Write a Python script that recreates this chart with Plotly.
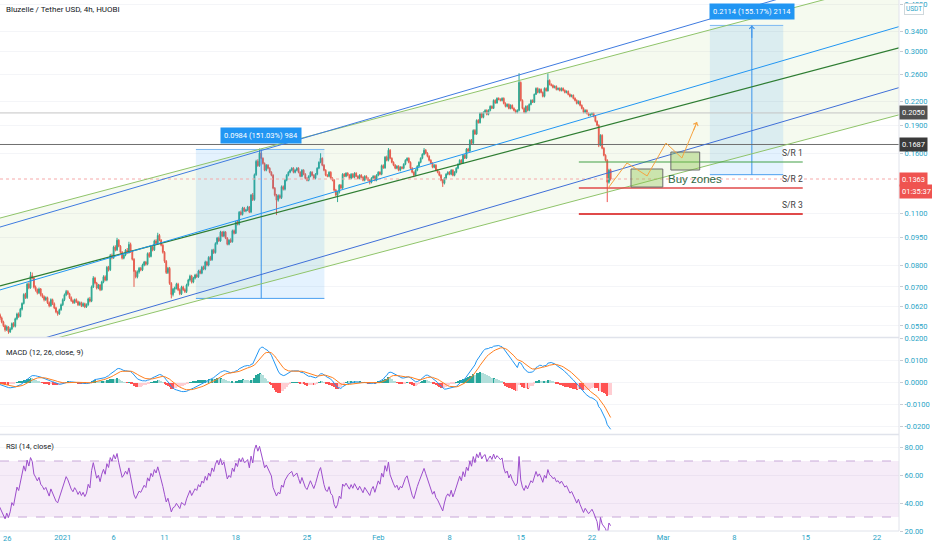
import math
import numpy as np
import pandas as pd
import plotly.graph_objects as go

# ---------------------------------------------------------------- data
candle_start = "2020-12-25 00:00"   # 4h candles
first_open = 0.0632

close = [
    0.0627, 0.0615, 0.0600, 0.0608, 0.0589, 0.0578,  # Dec 25
    0.0564, 0.0551, 0.0537, 0.0547, 0.0530, 0.0540,  # Dec 26
    0.0558, 0.0549, 0.0575, 0.0592, 0.0583, 0.0610,  # Dec 27
    0.0632, 0.0668, 0.0655, 0.0712, 0.0696, 0.0750,  # Dec 28
    0.0739, 0.0699, 0.0688, 0.0675, 0.0691, 0.0667,  # Dec 29
    0.0659, 0.0647, 0.0655, 0.0635, 0.0623, 0.0647,  # Dec 30
    0.0631, 0.0615, 0.0600, 0.0593, 0.0608, 0.0627,  # Dec 31
    0.0647, 0.0667, 0.0680, 0.0671, 0.0655, 0.0643,  # Jan 1
    0.0635, 0.0647, 0.0639, 0.0627, 0.0635, 0.0623,  # Jan 2
    0.0631, 0.0619, 0.0627, 0.0650, 0.0641, 0.0700,  # Jan 3
    0.0739, 0.0717, 0.0695, 0.0708, 0.0688, 0.0721,  # Jan 4
    0.0745, 0.0730, 0.0790, 0.0778, 0.0850, 0.0838,  # Jan 5
    0.0895, 0.0880, 0.0934, 0.0900, 0.0867, 0.0836,  # Jan 6
    0.0852, 0.0878, 0.0865, 0.0910, 0.0870, 0.0830,  # Jan 7
    0.0770, 0.0745, 0.0768, 0.0785, 0.0778, 0.0801,  # Jan 8
    0.0816, 0.0805, 0.0860, 0.0845, 0.0895, 0.0880,  # Jan 9
    0.0930, 0.0915, 0.0962, 0.0934, 0.0906, 0.0867,  # Jan 10
    0.0820, 0.0765, 0.0785, 0.0715, 0.0668, 0.0690,  # Jan 11
    0.0695, 0.0712, 0.0688, 0.0671, 0.0699, 0.0688,  # Jan 12
    0.0680, 0.0708, 0.0730, 0.0748, 0.0721, 0.0739,  # Jan 13
    0.0753, 0.0745, 0.0772, 0.0762, 0.0790, 0.0782,  # Jan 14
    0.0816, 0.0801, 0.0840, 0.0828, 0.0878, 0.0865,  # Jan 15
    0.0915, 0.0946, 0.0930, 0.0982, 0.0958, 0.0982,  # Jan 16
    0.0946, 0.0911, 0.0934, 0.0925, 0.0990, 0.0975,  # Jan 17
    0.1045, 0.1030, 0.1110, 0.1095, 0.1139, 0.1118,  # Jan 18
    0.1125, 0.1146, 0.1111, 0.1234, 0.1200, 0.1400,  # Jan 19
    0.1520, 0.1480, 0.1600, 0.1549, 0.1500, 0.1439,  # Jan 20
    0.1484, 0.1457, 0.1421, 0.1395, 0.1288, 0.1234,  # Jan 21
    0.1196, 0.1230, 0.1215, 0.1300, 0.1280, 0.1353,  # Jan 22
    0.1395, 0.1421, 0.1439, 0.1457, 0.1421, 0.1439,  # Jan 23
    0.1457, 0.1421, 0.1386, 0.1439, 0.1404, 0.1369,  # Jan 24
    0.1353, 0.1386, 0.1421, 0.1395, 0.1369, 0.1404,  # Jan 25
    0.1457, 0.1511, 0.1549, 0.1484, 0.1439, 0.1395,  # Jan 26
    0.1386, 0.1421, 0.1369, 0.1353, 0.1272, 0.1234,  # Jan 27
    0.1256, 0.1312, 0.1290, 0.1404, 0.1386, 0.1413,  # Jan 28
    0.1395, 0.1369, 0.1404, 0.1378, 0.1413, 0.1386,  # Jan 29
    0.1369, 0.1395, 0.1378, 0.1353, 0.1386, 0.1369,  # Jan 30
    0.1353, 0.1336, 0.1369, 0.1386, 0.1353, 0.1395,  # Jan 31
    0.1421, 0.1404, 0.1480, 0.1460, 0.1560, 0.1530,  # Feb 1
    0.1628, 0.1549, 0.1511, 0.1484, 0.1457, 0.1475,  # Feb 2
    0.1439, 0.1466, 0.1457, 0.1493, 0.1530, 0.1549,  # Feb 3
    0.1511, 0.1457, 0.1421, 0.1395, 0.1439, 0.1475,  # Feb 4
    0.1511, 0.1549, 0.1588, 0.1628, 0.1598, 0.1568,  # Feb 5
    0.1530, 0.1502, 0.1466, 0.1484, 0.1439, 0.1421,  # Feb 6
    0.1395, 0.1353, 0.1328, 0.1369, 0.1404, 0.1421,  # Feb 7
    0.1404, 0.1439, 0.1395, 0.1421, 0.1457, 0.1493,  # Feb 8
    0.1530, 0.1505, 0.1578, 0.1550, 0.1640, 0.1620,  # Feb 9
    0.1731, 0.1700, 0.1840, 0.1800, 0.1958, 0.1930,  # Feb 10
    0.2045, 0.1995, 0.2057, 0.2083, 0.2032, 0.2083,  # Feb 11
    0.2135, 0.2110, 0.2215, 0.2180, 0.2243, 0.2229,  # Feb 12
    0.2215, 0.2243, 0.2174, 0.2135, 0.2161, 0.2108,  # Feb 13
    0.2148, 0.2108, 0.2083, 0.2057, 0.2083, 0.2475,  # Feb 14
    0.2215, 0.2108, 0.2057, 0.2135, 0.2083, 0.2161,  # Feb 15
    0.2215, 0.2190, 0.2300, 0.2385, 0.2327, 0.2371,  # Feb 16
    0.2327, 0.2271, 0.2385, 0.2350, 0.2506, 0.2445,  # Feb 17
    0.2430, 0.2400, 0.2415, 0.2371, 0.2385, 0.2356,  # Feb 18
    0.2385, 0.2356, 0.2327, 0.2341, 0.2298, 0.2271,  # Feb 19
    0.2285, 0.2243, 0.2215, 0.2174, 0.2201, 0.2148,  # Feb 20
    0.2108, 0.2057, 0.2083, 0.2045, 0.2020, 0.2032,  # Feb 21
    0.2045, 0.2008, 0.1946, 0.1899, 0.1679, 0.1785,  # Feb 22
    0.1648, 0.1578, 0.1530, 0.1336, 0.1439, 0.1363,  # Feb 23
]

high = [
    0.0640, 0.0632, 0.0619, 0.0614, 0.0611, 0.0594,
    0.0583, 0.0568, 0.0555, 0.0552, 0.0549, 0.0545,
    0.0562, 0.0563, 0.0579, 0.0597, 0.0598, 0.0615,
    0.0636, 0.0673, 0.0675, 0.0718, 0.0720, 0.0768,
    0.0765, 0.0745, 0.0706, 0.0693, 0.0697, 0.0695,
    0.0673, 0.0664, 0.0660, 0.0659, 0.0640, 0.0652,
    0.0651, 0.0636, 0.0619, 0.0604, 0.0612, 0.0632,
    0.0652, 0.0672, 0.0687, 0.0686, 0.0675, 0.0660,
    0.0648, 0.0651, 0.0652, 0.0643, 0.0640, 0.0639,
    0.0636, 0.0635, 0.0632, 0.0655, 0.0658, 0.0706,
    0.0748, 0.0745, 0.0722, 0.0713, 0.0712, 0.0727,
    0.0752, 0.0752, 0.0796, 0.0797, 0.0858, 0.0860,
    0.0903, 0.0905, 0.0948, 0.0940, 0.0906, 0.0873,
    0.0858, 0.0884, 0.0890, 0.0925, 0.0920, 0.0876,
    0.0836, 0.0776, 0.0775, 0.0792, 0.0792, 0.0808,
    0.0822, 0.0822, 0.0866, 0.0868, 0.0902, 0.0905,
    0.0937, 0.0940, 0.0978, 0.0971, 0.0940, 0.0912,
    0.0873, 0.0826, 0.0792, 0.0792, 0.0721, 0.0696,
    0.0701, 0.0718, 0.0718, 0.0694, 0.0705, 0.0705,
    0.0694, 0.0714, 0.0736, 0.0755, 0.0754, 0.0745,
    0.0759, 0.0760, 0.0778, 0.0780, 0.0797, 0.0798,
    0.0823, 0.0822, 0.0846, 0.0848, 0.0885, 0.0886,
    0.0922, 0.0953, 0.0955, 0.0990, 0.0988, 0.0990,
    0.0988, 0.0952, 0.0940, 0.0945, 0.0997, 0.0998,
    0.1052, 0.1058, 0.1118, 0.1122, 0.1148, 0.1147,
    0.1133, 0.1155, 0.1153, 0.1243, 0.1250, 0.1410,
    0.1535, 0.1540, 0.1645, 0.1618, 0.1558, 0.1510,
    0.1494, 0.1494, 0.1466, 0.1430, 0.1404, 0.1297,
    0.1243, 0.1240, 0.1240, 0.1310, 0.1310, 0.1362,
    0.1404, 0.1430, 0.1448, 0.1466, 0.1466, 0.1448,
    0.1466, 0.1466, 0.1430, 0.1448, 0.1448, 0.1413,
    0.1378, 0.1395, 0.1430, 0.1430, 0.1404, 0.1413,
    0.1466, 0.1520, 0.1598, 0.1558, 0.1494, 0.1448,
    0.1404, 0.1430, 0.1430, 0.1378, 0.1362, 0.1282,
    0.1265, 0.1321, 0.1321, 0.1413, 0.1413, 0.1421,
    0.1421, 0.1404, 0.1413, 0.1413, 0.1421, 0.1421,
    0.1395, 0.1404, 0.1404, 0.1386, 0.1395, 0.1395,
    0.1378, 0.1362, 0.1378, 0.1395, 0.1395, 0.1404,
    0.1430, 0.1430, 0.1490, 0.1492, 0.1570, 0.1575,
    0.1650, 0.1640, 0.1558, 0.1520, 0.1494, 0.1484,
    0.1484, 0.1475, 0.1475, 0.1502, 0.1540, 0.1558,
    0.1558, 0.1520, 0.1466, 0.1430, 0.1448, 0.1484,
    0.1520, 0.1558, 0.1598, 0.1650, 0.1640, 0.1608,
    0.1578, 0.1540, 0.1511, 0.1494, 0.1494, 0.1448,
    0.1430, 0.1404, 0.1362, 0.1378, 0.1413, 0.1430,
    0.1430, 0.1448, 0.1448, 0.1430, 0.1466, 0.1502,
    0.1540, 0.1540, 0.1588, 0.1590, 0.1650, 0.1652,
    0.1742, 0.1745, 0.1852, 0.1855, 0.1970, 0.1972,
    0.2057, 0.2057, 0.2070, 0.2096, 0.2096, 0.2096,
    0.2148, 0.2148, 0.2229, 0.2229, 0.2257, 0.2257,
    0.2243, 0.2257, 0.2257, 0.2188, 0.2174, 0.2174,
    0.2161, 0.2161, 0.2122, 0.2096, 0.2096, 0.2620,
    0.2490, 0.2229, 0.2122, 0.2148, 0.2148, 0.2174,
    0.2229, 0.2229, 0.2310, 0.2400, 0.2400, 0.2385,
    0.2385, 0.2341, 0.2400, 0.2400, 0.2617, 0.2522,
    0.2460, 0.2445, 0.2430, 0.2430, 0.2400, 0.2400,
    0.2400, 0.2400, 0.2371, 0.2356, 0.2356, 0.2313,
    0.2298, 0.2298, 0.2257, 0.2229, 0.2215, 0.2215,
    0.2161, 0.2122, 0.2096, 0.2096, 0.2057, 0.2045,
    0.2057, 0.2057, 0.2020, 0.1958, 0.1910, 0.1797,
    0.1797, 0.1660, 0.1588, 0.1540, 0.1452, 0.1452,
]

low = [
    0.0620, 0.0610, 0.0594, 0.0596, 0.0584, 0.0571,
    0.0559, 0.0546, 0.0531, 0.0533, 0.0524, 0.0527,
    0.0536, 0.0545, 0.0545, 0.0570, 0.0578, 0.0580,
    0.0605, 0.0628, 0.0650, 0.0650, 0.0690, 0.0692,
    0.0733, 0.0693, 0.0680, 0.0668, 0.0670, 0.0660,
    0.0653, 0.0640, 0.0642, 0.0630, 0.0617, 0.0619,
    0.0626, 0.0610, 0.0595, 0.0586, 0.0589, 0.0604,
    0.0622, 0.0641, 0.0661, 0.0666, 0.0650, 0.0638,
    0.0630, 0.0631, 0.0634, 0.0622, 0.0623, 0.0618,
    0.0618, 0.0614, 0.0615, 0.0623, 0.0636, 0.0637,
    0.0695, 0.0711, 0.0689, 0.0690, 0.0682, 0.0684,
    0.0716, 0.0725, 0.0725, 0.0770, 0.0772, 0.0830,
    0.0832, 0.0872, 0.0874, 0.0894, 0.0860, 0.0829,
    0.0830, 0.0846, 0.0858, 0.0860, 0.0864, 0.0824,
    0.0700, 0.0738, 0.0738, 0.0760, 0.0771, 0.0772,
    0.0795, 0.0798, 0.0800, 0.0838, 0.0840, 0.0872,
    0.0874, 0.0908, 0.0908, 0.0928, 0.0899, 0.0860,
    0.0812, 0.0758, 0.0758, 0.0709, 0.0652, 0.0660,
    0.0675, 0.0689, 0.0682, 0.0665, 0.0666, 0.0682,
    0.0674, 0.0674, 0.0702, 0.0724, 0.0715, 0.0716,
    0.0733, 0.0740, 0.0740, 0.0757, 0.0757, 0.0776,
    0.0776, 0.0795, 0.0795, 0.0822, 0.0822, 0.0858,
    0.0860, 0.0908, 0.0924, 0.0925, 0.0952, 0.0952,
    0.0940, 0.0905, 0.0905, 0.0918, 0.0920, 0.0968,
    0.0970, 0.1024, 0.1024, 0.1088, 0.1088, 0.1111,
    0.1110, 0.1118, 0.1104, 0.1104, 0.1190, 0.1192,
    0.1390, 0.1470, 0.1470, 0.1540, 0.1490, 0.1430,
    0.1430, 0.1448, 0.1412, 0.1386, 0.1279, 0.1224,
    0.1091, 0.1185, 0.1205, 0.1205, 0.1270, 0.1270,
    0.1344, 0.1386, 0.1412, 0.1430, 0.1412, 0.1412,
    0.1430, 0.1412, 0.1378, 0.1378, 0.1395, 0.1360,
    0.1344, 0.1344, 0.1378, 0.1386, 0.1360, 0.1360,
    0.1395, 0.1448, 0.1502, 0.1475, 0.1430, 0.1386,
    0.1378, 0.1378, 0.1360, 0.1344, 0.1262, 0.1224,
    0.1182, 0.1246, 0.1280, 0.1282, 0.1378, 0.1378,
    0.1386, 0.1360, 0.1360, 0.1369, 0.1369, 0.1378,
    0.1360, 0.1360, 0.1369, 0.1344, 0.1344, 0.1360,
    0.1344, 0.1318, 0.1327, 0.1360, 0.1344, 0.1344,
    0.1386, 0.1395, 0.1395, 0.1452, 0.1452, 0.1520,
    0.1520, 0.1540, 0.1502, 0.1475, 0.1448, 0.1448,
    0.1430, 0.1430, 0.1448, 0.1448, 0.1484, 0.1520,
    0.1502, 0.1448, 0.1412, 0.1378, 0.1386, 0.1430,
    0.1466, 0.1502, 0.1540, 0.1578, 0.1588, 0.1558,
    0.1520, 0.1494, 0.1457, 0.1457, 0.1430, 0.1412,
    0.1386, 0.1344, 0.1298, 0.1318, 0.1360, 0.1395,
    0.1395, 0.1395, 0.1386, 0.1386, 0.1412, 0.1448,
    0.1484, 0.1498, 0.1498, 0.1542, 0.1542, 0.1610,
    0.1612, 0.1690, 0.1690, 0.1790, 0.1790, 0.1920,
    0.1920, 0.1983, 0.1983, 0.2045, 0.2020, 0.2020,
    0.2070, 0.2100, 0.2100, 0.2170, 0.2170, 0.2215,
    0.2201, 0.2201, 0.2161, 0.2122, 0.2122, 0.2096,
    0.2096, 0.2096, 0.2070, 0.2045, 0.2045, 0.2070,
    0.2201, 0.2096, 0.2045, 0.2045, 0.2070, 0.2070,
    0.2148, 0.2180, 0.2180, 0.2290, 0.2313, 0.2313,
    0.2313, 0.2257, 0.2257, 0.2340, 0.2340, 0.2430,
    0.2415, 0.2385, 0.2385, 0.2356, 0.2356, 0.2341,
    0.2341, 0.2341, 0.2313, 0.2313, 0.2285, 0.2257,
    0.2257, 0.2229, 0.2201, 0.2161, 0.2161, 0.2135,
    0.2096, 0.2045, 0.2045, 0.2032, 0.2008, 0.2008,
    0.2020, 0.1995, 0.1934, 0.1887, 0.1660, 0.1669,
    0.1638, 0.1568, 0.1520, 0.1182, 0.1325, 0.1350,
]

# visible time window
x_range = ["2020-12-25 20:00", "2021-03-24 04:00"]

# parallel channels (start / end of drawing)
channel_dates = ["2020-12-25 20:00", "2021-03-24 04:00"]
green_upper = [0.1071, 0.4665]
green_mid = [0.0704, 0.3065]
green_lower = [0.0465, 0.2026]
blue_upper = [0.1013, 0.5156]
blue_mid = [0.0687, 0.3494]
blue_lower = [0.0471, 0.2397]

# horizontal levels
level_light = 0.2050
level_dark = 0.1687
last_price = 0.1363

# price-range measurements
measure_start = ["2021-01-14 02:00", "2021-03-05 14:00"]
measure_end = ["2021-01-26 17:00", "2021-03-12 19:00"]
measure_mid = ["2021-01-20 12:00", "2021-03-09 17:00"]
measure_low = [0.0652, 0.1400]
measure_high = [0.1636, 0.3520]
measure_text = ["0.0984 (151.03%) 984", "0.2114 (155.17%) 2114"]

# support / resistance
sr_start = "2021-02-20 17:00"
sr_end = "2021-03-14 17:00"
sr_levels = [0.1514, 0.1289, 0.1098]
sr_labels = ["S/R 1", "S/R 2", "S/R 3"]

# buy zones
zone_start = ["2021-02-25 20:00", "2021-03-01 18:00"]
zone_end = ["2021-02-28 23:00", "2021-03-04 14:00"]
zone_low = [0.1297, 0.1441]
zone_high = [0.1450, 0.1610]
zone_label_date = "2021-03-01 06:30"
zone_label_price = 0.1361

# projected path
path_dates = ["2021-02-23 14:00", "2021-02-25 10:30", "2021-02-27 10:00",
              "2021-03-01 06:30", "2021-03-02 20:00", "2021-03-04 07:30"]
path_prices = [0.1289, 0.1505, 0.1389, 0.1702, 0.1552, 0.1938]

# axes ticks
first_date_tick = "2020-12-26"
first_date_label = "26"
date_ticks = ["2021-01-01", "2021-01-06", "2021-01-11", "2021-01-18",
              "2021-01-25", "2021-02-01", "2021-02-08", "2021-02-15", "2021-02-22",
              "2021-03-01", "2021-03-08", "2021-03-15", "2021-03-22"]
date_labels = ["2021", "6", "11", "18", "25", "Feb", "8", "15", "22",
               "Mar", "8", "15", "22"]
price_ticks = [0.055, 0.062, 0.070, 0.080, 0.095, 0.110, 0.160,
               0.190, 0.220, 0.260, 0.300, 0.340, 0.400]
macd_ticks = [-0.02, -0.01, 0.0, 0.01, 0.02]
rsi_ticks = [20, 40, 60, 80]

# ---------------------------------------------------------------- styles
FONT = "Liberation Sans Narrow, Roboto, Liberation Sans, sans-serif"
TEAL = "#2aa4c6"
TXT = "#131722"
UP = "#26a69a"
DOWN = "#ef5350"
ORANGE = "#f5a442"
BLUE_M = "#2196f3"
TICK_SIZE = 7.5

# ---------------------------------------------------------------- indicators
times = pd.date_range(candle_start, periods=len(close), freq="4h")
opens = [first_open] + close[:-1]
cs = pd.Series(close)
macd = cs.ewm(span=12, adjust=False).mean() - cs.ewm(span=26, adjust=False).mean()
signal = macd.ewm(span=9, adjust=False).mean()
hist = (macd - signal).to_numpy()
hist_colors = []
for i, h in enumerate(hist):
    prev = hist[i - 1] if i > 0 else 0.0
    if h >= 0:
        hist_colors.append("#26a69a" if h >= prev else "#b2dfdb")
    else:
        hist_colors.append("#ff5252" if h < prev else "#ffcdd2")

diff = np.diff(np.array(close), prepend=first_open)
gain = np.maximum(diff, 0)
loss = np.maximum(-diff, 0)
seed = float(np.mean(np.abs(diff[:14]))) / 2
ag, al = seed, seed
rsi = []
for g, l in zip(gain, loss):
    ag = (ag * 13 + g) / 14
    al = (al * 13 + l) / 14
    rsi.append(100 - 100 / (1 + ag / al))

# ---------------------------------------------------------------- figure
fig = go.Figure()


def line(xs, ys, color, width=1, dash="solid", axis="y"):
    fig.add_trace(go.Scatter(x=xs, y=ys, mode="lines", yaxis=axis, hoverinfo="skip",
                             line=dict(color=color, width=width, dash=dash), showlegend=False))


def poly(xs, ys, fillcolor, axis="y", edge=None):
    fig.add_trace(go.Scatter(x=xs, y=ys, mode="lines", fill="toself", fillcolor=fillcolor,
                             yaxis=axis, hoverinfo="skip", showlegend=False,
                             line=dict(width=1 if edge else 0, color=edge or "rgba(0,0,0,0)")))


d0, d1 = channel_dates
poly([d0, d1, d1, d0], [green_upper[0], green_upper[1], green_lower[1], green_lower[0]],
     "rgba(139,195,74,0.09)")

fig.add_trace(go.Candlestick(
    x=times, open=opens, high=high, low=low, close=close, yaxis="y",
    increasing=dict(line=dict(color=UP, width=1), fillcolor=UP),
    decreasing=dict(line=dict(color=DOWN, width=1), fillcolor=DOWN),
    whiskerwidth=0, hoverinfo="skip", showlegend=False))

for s, e, m, lo, hi in zip(measure_start, measure_end, measure_mid, measure_low, measure_high):
    poly([s, e, e, s], [lo, lo, hi, hi], "rgba(33,150,243,0.12)")
    line([s, e], [lo, lo], "#4a9ff0")
    line([s, e], [hi, hi], "#7db9f2")
    line([m, m], [lo, hi], "#3b93ea")

line(x_range, [level_light, level_light], "#c4c4c4")
line(x_range, [level_dark, level_dark], "#707070")
line(x_range, [last_price, last_price], "#f6a9a9", dash="dot")

line(channel_dates, green_upper, "#8fc46a")
line(channel_dates, green_lower, "#8fc46a")
line(channel_dates, green_mid, "#2e7d32", width=1.3)
line(channel_dates, blue_upper, "#3f7be0")
line(channel_dates, blue_lower, "#3f6fd8")
line(channel_dates, blue_mid, "#2196f3")

sr_colors = ["#43a047", "#e04a4a", "#e04a4a"]
sr_widths = [1.2, 1.5, 2]
for lvl, c, w in zip(sr_levels, sr_colors, sr_widths):
    line([sr_start, sr_end], [lvl, lvl], c, width=w)

for s, e, lo, hi in zip(zone_start, zone_end, zone_low, zone_high):
    poly([s, e, e, s, s], [lo, lo, hi, hi, lo], "rgba(139,195,74,0.40)", edge="#6b6b6b")

line(path_dates, path_prices, ORANGE)

fig.add_trace(go.Bar(x=times, y=hist, marker=dict(color=hist_colors, line=dict(width=0)),
                     width=4 * 3600 * 1000 * 0.6, yaxis="y2", hoverinfo="skip", showlegend=False))
line(times, macd, BLUE_M, axis="y2")
line(times, signal, "#ff7f1e", axis="y2")

poly([x_range[0], x_range[1], x_range[1], x_range[0]], [30, 30, 70, 70],
     "rgba(156,39,176,0.09)", axis="y3")
line(x_range, [70, 70], "#c8a8d8", dash="dash", axis="y3")
line(x_range, [30, 30], "#c8a8d8", dash="dash", axis="y3")
line(times, rsi, "#9c4dcc", axis="y3")

# ---------------------------------------------------------------- annotations
L10 = math.log10
ann = []
ann.append(dict(xref="paper", yref="paper", x=0.004, y=1 - 10 / 531, xanchor="left", yanchor="middle",
                text="Bluzelle / Tether USD, 4h, HUOBI", showarrow=False,
                font=dict(family=FONT, size=8, color=TXT)))
ann.append(dict(xref="paper", yref="paper", x=0.004, y=1 - 352 / 531, xanchor="left", yanchor="middle",
                text="MACD (12, 26, close, 9)", showarrow=False, font=dict(family=FONT, size=7.5, color=TXT)))
ann.append(dict(xref="paper", yref="paper", x=0.004, y=1 - 446 / 531, xanchor="left", yanchor="middle",
                text="RSI (14, close)", showarrow=False, font=dict(family=FONT, size=7.5, color=TXT)))

# first date label at the very left edge, kept fully inside the page
ann.append(dict(x=first_date_tick, xref="x", y=0, yref="paper", text=first_date_label,
                showarrow=False, xanchor="left", yanchor="top", xshift=-1, yshift=-1,
                font=dict(family=FONT, size=TICK_SIZE, color=TEAL)))

for m, hi, t in zip(measure_mid, measure_high, measure_text):
    ann.append(dict(x=m, y=L10(hi), xref="x", yref="y", text=t, showarrow=False,
                    yanchor="bottom", yshift=5, bgcolor="#2196f3", borderpad=3,
                    font=dict(family=FONT, size=7.5, color="white")))
ann.append(dict(x=measure_mid[1], y=L10(measure_high[1]), xref="x", yref="y", text="",
                showarrow=True, ax=0, ay=14, arrowhead=4, arrowsize=1, arrowwidth=1,
                arrowcolor="#3b93ea"))
ann.append(dict(x=path_dates[-1], y=L10(path_prices[-1]), xref="x", yref="y", text="",
                showarrow=True, ax=-4, ay=10, arrowhead=4, arrowsize=1, arrowwidth=1,
                arrowcolor=ORANGE))

for lvl, t in zip(sr_levels, sr_labels):
    ann.append(dict(x=sr_end, y=L10(lvl), xref="x", yref="y", text=t, showarrow=False,
                    xanchor="right", yanchor="bottom", yshift=2, xshift=2,
                    font=dict(family=FONT, size=8.5, color="#3c3c3c")))

ann.append(dict(x=zone_label_date, y=L10(zone_label_price), xref="x", yref="y", text="Buy zones",
                showarrow=False, xanchor="left", yanchor="middle",
                font=dict(family="Liberation Sans, Arial, sans-serif", size=11.5, color="#2f6b45")))

for lvl, bg in [(level_light, "#505050"), (level_dark, "#3a3a3a"), (last_price, "#ef5350")]:
    ann.append(dict(xref="paper", yref="y", x=1.0, y=L10(lvl), xanchor="left", yanchor="middle",
                    text="%.4f" % lvl, showarrow=False, bgcolor=bg, borderpad=2,
                    font=dict(family=FONT, size=TICK_SIZE, color="white")))
ann.append(dict(xref="paper", yref="y", x=1.0, y=L10(last_price), xanchor="left", yanchor="middle",
                yshift=-12, text="01:35:37", showarrow=False, bgcolor="#ef5350", borderpad=2,
                font=dict(family=FONT, size=TICK_SIZE, color="white")))
ann.append(dict(xref="paper", yref="paper", x=1.0, y=1 - 9 / 531, xanchor="left", yanchor="middle",
                xshift=5, text="USDT", showarrow=False, bgcolor="white", bordercolor="#cfd8dc",
                borderwidth=1, borderpad=1, font=dict(family=FONT, size=6.5, color=TEAL)))

shapes = [
    dict(type="line", xref="paper", yref="paper", x0=0, x1=1, y0=1 - 337.5 / 531, y1=1 - 337.5 / 531,
         line=dict(color="#e0e3eb", width=1.5)),
    dict(type="line", xref="paper", yref="paper", x0=0, x1=1, y0=1 - 434.5 / 531, y1=1 - 434.5 / 531,
         line=dict(color="#e0e3eb", width=1.5)),
    dict(type="line", xref="paper", yref="paper", x0=1, x1=1, y0=0, y1=1,
         line=dict(color="#e0e3eb", width=1)),
    dict(type="line", xref="paper", yref="paper", x0=0, x1=1, y0=0, y1=0,
         line=dict(color="#e0e3eb", width=1)),
]

yax_common = dict(side="right", anchor="x", showgrid=True, gridcolor="#f4f5f8", zeroline=False,
                  ticks="outside", ticklen=3, tickcolor="#c8cbd2", fixedrange=True,
                  tickfont=dict(family=FONT, size=TICK_SIZE, color=TEAL), automargin=False)

fig.update_layout(
    width=932, height=550, margin=dict(l=0, r=33, t=0, b=19),
    paper_bgcolor="white", plot_bgcolor="white", showlegend=False, bargap=0,
    annotations=ann, shapes=shapes,
    xaxis=dict(domain=[0, 1], type="date", range=x_range, anchor="y3",
               tickvals=date_ticks, ticktext=date_labels, showgrid=False, zeroline=False,
               ticks="", tickfont=dict(family=FONT, size=TICK_SIZE, color=TEAL),
               rangeslider=dict(visible=False), fixedrange=True, automargin=False),
    yaxis=dict(domain=[1 - 337 / 531, 1], type="log", range=[-1.2893, -0.3853],
               tickvals=price_ticks, ticktext=["%.4f" % v for v in price_ticks], **yax_common),
    yaxis2=dict(domain=[1 - 434 / 531, 1 - 338 / 531], range=[-0.02332, 0.02032],
                tickvals=macd_ticks, ticktext=["%.4f" % v for v in macd_ticks], **yax_common),
    yaxis3=dict(domain=[0, 1 - 435 / 531], range=[20, 88.57],
                tickvals=rsi_ticks, ticktext=["%.2f" % v for v in rsi_ticks], **yax_common),
)

fig.write_html("out.html", config={"displayModeBar": False},
               post_script="document.body.style.margin='0px';")
